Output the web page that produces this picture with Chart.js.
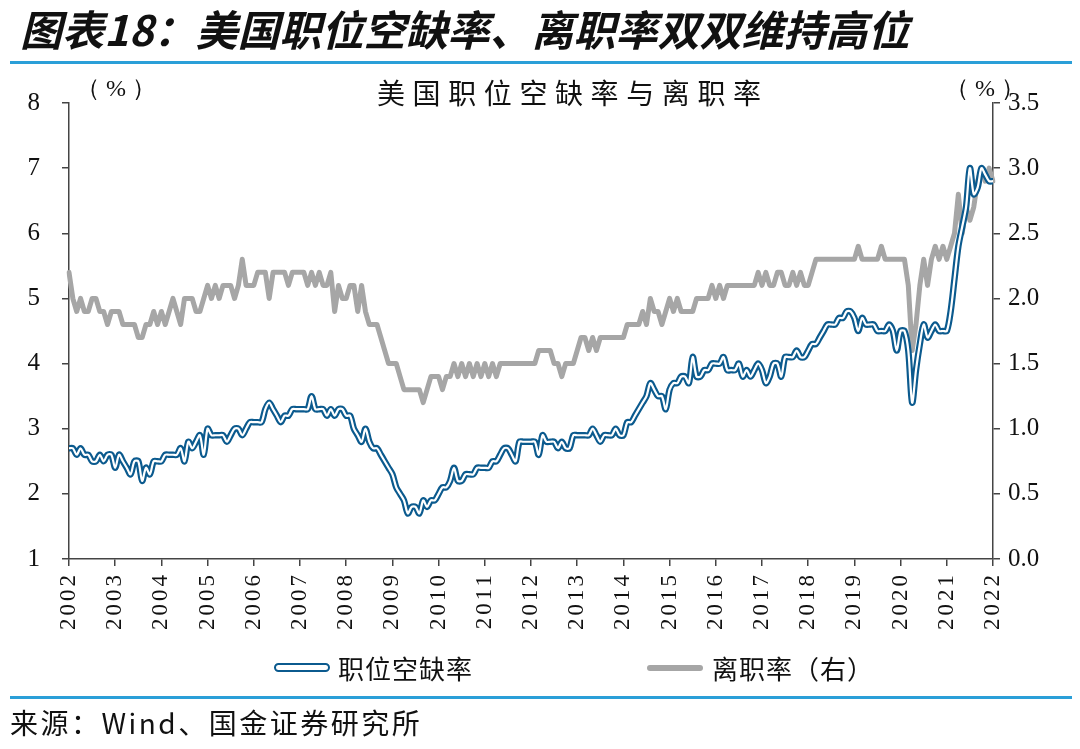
<!DOCTYPE html>
<html>
<head>
<meta charset="utf-8">
<script src="https://cdn.jsdelivr.net/npm/chart.js@4/dist/chart.umd.min.js"></script>
<style>
  html, body { margin: 0; padding: 0; background: #fff; }
  #wrap { position: relative; width: 1080px; height: 749px; overflow: hidden; font-family: "Noto Sans CJK SC", sans-serif; }
  #chart { position: absolute; left: 0; top: 0; }
  .abs { position: absolute; white-space: nowrap; }
  #title { left: 20px; top: 2px; font-size: 42px; font-weight: bold; font-style: italic; color: #111; line-height: 52px; }
  .rule { position: absolute; left: 10px; width: 1062px; height: 3px; background: #2a9fd8; }
  #subtitle { left: 377px; top: 73px; font-size: 28px; letter-spacing: 7.6px; color: #111; line-height: 38px; }
  .unit { top: 72px; font-size: 24px; color: #111; line-height: 32px; font-family: "Liberation Serif", serif; }
  #legend { left: 0; top: 650px; width: 1080px; height: 36px; font-size: 26px; color: #111; }
  .lg-item { position: absolute; top: 0; line-height: 36px; letter-spacing: 1px; }
  .lg-blue { position: absolute; top: 13px; width: 52px; height: 5px; border: 2.5px solid #0b5a8e; border-radius: 5px; background: #fff; }
  .lg-gray { position: absolute; top: 15px; width: 56px; height: 6px; background: #a6a6a6; border-radius: 3px; }
  #source { left: 10px; top: 704px; font-size: 28px; color: #111; line-height: 36px; letter-spacing: 2.5px; }
</style>
</head>
<body>
<div id="wrap">
  <canvas id="chart" width="1080" height="749"></canvas>
  <div id="title" class="abs">图表18：美国职位空缺率、离职率双双维持高位</div>
  <div class="rule" style="top:61px"></div>
  <div id="subtitle" class="abs">美国职位空缺率与离职率</div>
  <div class="abs unit" style="left:76px">（ % ）</div>
  <div class="abs unit" style="left:945px">（ % ）</div>
  <div id="legend" class="abs">
    <span class="lg-blue" style="left:274px"></span>
    <span class="lg-item" style="left:338px">职位空缺率</span>
    <span class="lg-gray" style="left:647px"></span>
    <span class="lg-item" style="left:712px">离职率（右）</span>
  </div>
  <div class="rule" style="top:696px"></div>
  <div id="source" class="abs">来源：Wind、国金证券研究所</div>
</div>
<script>
// monthly, Jan 2002 .. Jan 2022
const firstYear = 2002;
const lastYear = 2022;
const yearTicks = ['2002','2003','2004','2005','2006','2007','2008','2009','2010','2011','2012',
                   '2013','2014','2015','2016','2017','2018','2019','2020','2021','2022'];

// 职位空缺率 (left axis, %)
const vacancyRate = [
  2.7,2.7,2.6,2.7,2.6,2.6,2.5,2.5,2.6,2.5,2.6,2.6, // 2002
  2.4,2.6,2.5,2.4,2.3,2.5,2.5,2.2,2.4,2.3,2.5,2.5, // 2003
  2.5,2.6,2.6,2.6,2.6,2.7,2.5,2.8,2.7,2.8,2.9,2.6, // 2004
  3.0,2.9,2.9,2.9,2.9,2.8,2.9,3.0,3.0,2.9,3.0,3.1, // 2005
  3.1,3.1,3.1,3.3,3.4,3.3,3.2,3.1,3.2,3.2,3.3,3.3, // 2006
  3.3,3.3,3.3,3.5,3.3,3.3,3.3,3.2,3.3,3.2,3.3,3.3, // 2007
  3.2,3.2,3.0,2.9,2.8,3.0,2.8,2.7,2.7,2.6,2.5,2.4, // 2008
  2.3,2.1,2.0,1.9,1.7,1.8,1.8,1.7,1.9,1.8,1.9,1.9, // 2009
  2.0,2.1,2.1,2.2,2.4,2.2,2.2,2.3,2.3,2.3,2.4,2.4, // 2010
  2.4,2.4,2.5,2.5,2.6,2.7,2.7,2.6,2.5,2.8,2.8,2.8, // 2011
  2.8,2.8,2.6,2.9,2.8,2.8,2.8,2.7,2.8,2.7,2.7,2.9, // 2012
  2.9,2.9,2.9,2.9,3.0,2.9,2.8,2.9,2.9,2.9,3.0,2.9, // 2013
  2.9,3.1,3.1,3.2,3.3,3.4,3.5,3.7,3.6,3.5,3.5,3.3, // 2014
  3.6,3.7,3.7,3.8,3.8,3.7,4.1,3.8,3.8,3.9,3.9,4.0, // 2015
  4.0,4.0,4.1,3.9,3.9,3.9,4.0,3.8,3.9,3.8,3.9,4.0, // 2016
  3.9,3.7,3.8,4.0,4.0,3.8,4.1,4.1,4.1,4.2,4.1,4.1, // 2017
  4.2,4.3,4.3,4.4,4.5,4.6,4.6,4.6,4.7,4.7,4.8,4.8, // 2018
  4.7,4.5,4.7,4.6,4.6,4.6,4.5,4.5,4.5,4.6,4.5,4.2, // 2019
  4.5,4.5,4.2,3.4,3.9,4.3,4.6,4.4,4.5,4.6,4.5,4.5, // 2020
  4.5,4.8,5.3,5.8,6.1,6.4,7.0,6.6,6.7,7.0,6.9,6.8, // 2021
  6.8                                              // 2022
];

// 离职率 (right axis, %)
const quitsRate = [
  2.2,2.0,1.9,2.0,1.9,1.9,2.0,2.0,1.9,1.9,1.8,1.9, // 2002
  1.9,1.9,1.8,1.8,1.8,1.8,1.7,1.7,1.8,1.8,1.9,1.8, // 2003
  1.9,1.8,1.9,2.0,1.9,1.8,2.0,2.0,2.0,1.9,1.9,2.0, // 2004
  2.1,2.0,2.1,2.0,2.1,2.1,2.1,2.0,2.1,2.3,2.1,2.1, // 2005
  2.1,2.2,2.2,2.2,2.0,2.2,2.2,2.2,2.2,2.1,2.2,2.2, // 2006
  2.2,2.2,2.1,2.2,2.1,2.2,2.1,2.1,2.2,1.9,2.1,2.0, // 2007
  2.0,2.1,2.1,1.9,2.1,1.9,1.8,1.8,1.8,1.7,1.6,1.5, // 2008
  1.5,1.5,1.4,1.3,1.3,1.3,1.3,1.3,1.2,1.3,1.4,1.4, // 2009
  1.4,1.3,1.4,1.4,1.5,1.4,1.5,1.4,1.5,1.4,1.5,1.4, // 2010
  1.5,1.4,1.5,1.4,1.5,1.5,1.5,1.5,1.5,1.5,1.5,1.5, // 2011
  1.5,1.5,1.6,1.6,1.6,1.6,1.5,1.5,1.4,1.5,1.5,1.5, // 2012
  1.6,1.7,1.7,1.6,1.7,1.6,1.7,1.7,1.7,1.7,1.7,1.7, // 2013
  1.7,1.8,1.8,1.8,1.8,1.9,1.8,2.0,1.9,1.9,1.8,1.9, // 2014
  2.0,1.9,2.0,1.9,1.9,1.9,1.9,2.0,2.0,2.0,2.0,2.1, // 2015
  2.0,2.1,2.0,2.1,2.1,2.1,2.1,2.1,2.1,2.1,2.1,2.2, // 2016
  2.1,2.2,2.1,2.1,2.2,2.2,2.1,2.1,2.2,2.1,2.2,2.1, // 2017
  2.1,2.2,2.3,2.3,2.3,2.3,2.3,2.3,2.3,2.3,2.3,2.3, // 2018
  2.3,2.4,2.3,2.3,2.3,2.3,2.3,2.4,2.3,2.3,2.3,2.3, // 2019
  2.3,2.3,2.1,1.6,1.8,2.1,2.3,2.1,2.3,2.4,2.3,2.4, // 2020
  2.3,2.4,2.5,2.8,2.5,2.7,2.6,2.7,2.9,3.0,2.9,3.0, // 2021
  2.9                                              // 2022
];

const labels = [];
for (let y = firstYear; y <= lastYear; y++) {
  for (let m = 1; m <= 12; m++) {
    if (labels.length < vacancyRate.length) labels.push(y + '-' + String(m).padStart(2, '0'));
  }
}

const BLUE = '#0b5a8e';
const GRAY = '#a6a6a6';
const AXIS = '#444';
const serif = '"Liberation Serif", "Times New Roman", serif';

// the year labels in the original are widely spaced; x tick labels sit in a layer after the lines (ticks.z: 1)
const spacedXLabels = {
  id: 'spacedXLabels',
  afterDatasetsDraw(chart) { chart.ctx.letterSpacing = '3px'; },
  afterDraw(chart) { chart.ctx.letterSpacing = '0px'; }
};

new Chart(document.getElementById('chart'), {
  type: 'line',
  data: {
    labels: labels,
    datasets: [
      {
        label: '离职率（右）',
        data: quitsRate,
        yAxisID: 'yR',
        borderColor: GRAY,
        borderWidth: 5,
        borderJoinStyle: 'round',
        borderCapStyle: 'round',
        pointRadius: 0,
        tension: 0,
        order: 3
      },
      {
        label: '职位空缺率',
        data: vacancyRate,
        yAxisID: 'yL',
        borderColor: BLUE,
        borderWidth: 6.5,
        borderJoinStyle: 'round',
        pointRadius: 0,
        tension: 0.3,
        order: 2
      },
      {
        label: '职位空缺率-inner',
        data: vacancyRate,
        yAxisID: 'yL',
        borderColor: '#ffffff',
        borderWidth: 2.2,
        borderJoinStyle: 'round',
        pointRadius: 0,
        tension: 0.3,
        order: 1
      }
    ]
  },
  options: {
    responsive: false,
    animation: false,
    layout: { padding: { top: 103, left: 0, right: 0, bottom: 0 } },
    plugins: {
      legend: { display: false },
      tooltip: { enabled: false }
    },
    scales: {
      x: {
        type: 'category',
        offset: false,
        grid: { display: true, drawOnChartArea: false, drawTicks: true, tickLength: 7, color: AXIS, lineWidth: 1.5 },
        border: { display: true, color: AXIS, width: 1.5 },
        ticks: {
          z: 1,
          autoSkip: false,
          minRotation: 90,
          maxRotation: 90,
          padding: 6,
          color: '#111',
          font: { family: serif, size: 23 },
          callback: function (val, i) {
            return i % 12 === 0 ? yearTicks[i / 12] : null;
          }
        },
        afterFit: function (scale) { scale.height = 749 - 559; }
      },
      yL: {
        position: 'left',
        min: 1,
        max: 8,
        grid: { display: true, drawOnChartArea: false, drawTicks: true, tickLength: 7, color: AXIS, lineWidth: 1.5 },
        border: { display: true, color: AXIS, width: 1.5 },
        ticks: {
          stepSize: 1,
          padding: 22,
          color: '#111',
          font: { family: serif, size: 25 }
        },
        afterFit: function (scale) { scale.width = 69; }
      },
      yR: {
        position: 'right',
        min: 0,
        max: 3.5,
        grid: { display: true, drawOnChartArea: false, drawTicks: true, tickLength: 7, color: AXIS, lineWidth: 1.5 },
        border: { display: true, color: AXIS, width: 1.5 },
        ticks: {
          stepSize: 0.5,
          padding: 8,
          color: '#111',
          font: { family: serif, size: 25 },
          callback: function (v) { return Number(v).toFixed(1); }
        },
        afterFit: function (scale) { scale.width = 1080 - 993; }
      }
    }
  },
  plugins: [spacedXLabels]
});
</script>
</body>
</html>
